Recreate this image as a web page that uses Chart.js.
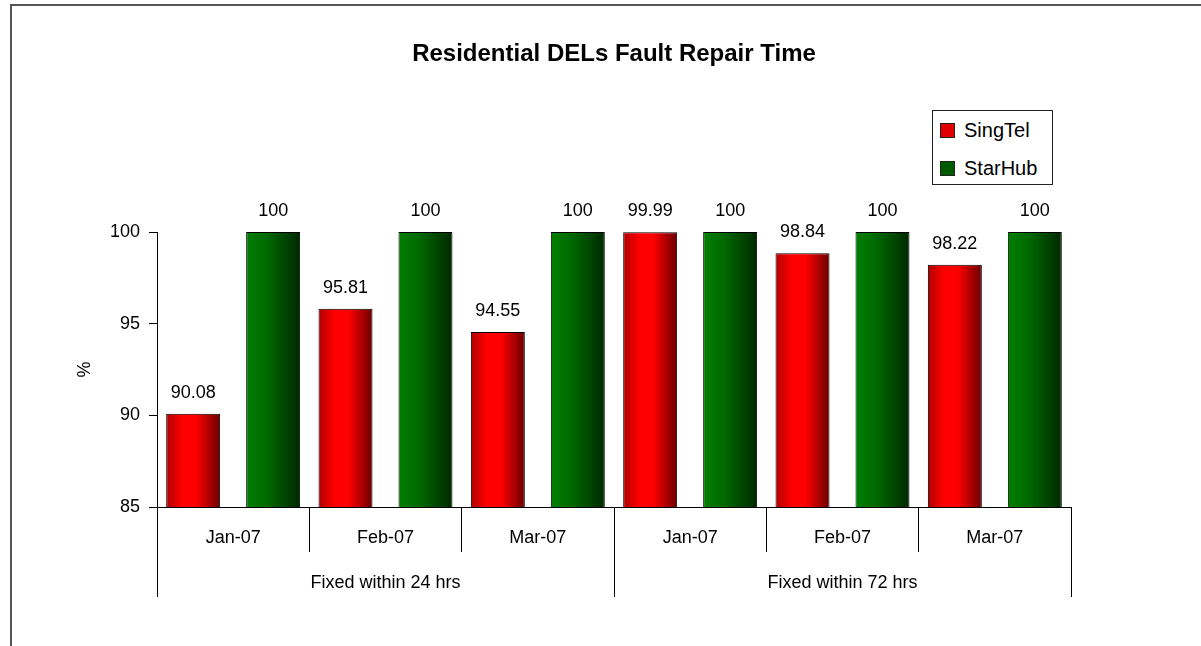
<!DOCTYPE html>
<html>
<head>
<meta charset="utf-8">
<script src="https://cdn.jsdelivr.net/npm/chart.js@4.4.1/dist/chart.umd.min.js"></script>
<style>
    body { margin: 0; background: #fff; overflow: hidden; }
    #frame { position: absolute; left: 10px; top: 4px; width: 1400px; height: 900px; border-top: 2px solid #555; border-left: 2px solid #555; }
    #wrap { position: absolute; left: 0; top: 0; width: 1201px; height: 646px; }
    #legend { position: absolute; left: 932px; top: 110px; width: 119px; height: 73px; border: 1px solid #222; background: #fff;
        font-family: 'Liberation Sans', Arial, sans-serif; font-size: 20px; color: #000; }
    #legend .row { position: absolute; left: 7px; height: 22px; line-height: 22px; white-space: nowrap; }
    #legend .sw { display: inline-block; width: 13px; height: 13px; border: 1px solid #222; vertical-align: -1px; margin-right: 9px; }
</style>
</head>
<body>
<div id="frame"></div>
<div id="wrap"><canvas id="chart"></canvas></div>
<div id="legend"></div>
<script>
const months = ['Jan-07', 'Feb-07', 'Mar-07', 'Jan-07', 'Feb-07', 'Mar-07'];
const groups = ['Fixed within 24 hrs', 'Fixed within 72 hrs'];
const singtel = [90.08, 95.81, 94.55, 99.99, 98.84, 98.22];
const starhub = [100, 100, 100, 100, 100, 100];
const yTicks = [85, 90, 95, 100];

const seriesNames = ['SingTel', 'StarHub'];
const gradientStops = [
    [[0, '#b00000'], [0.3, '#ff0000'], [0.55, '#ff0000'], [1, '#6a0000']],
    [[0, '#008000'], [0.4, '#006800'], [1, '#002800']]
];
const flatColors = ['#e00000', '#005a00'];

function barFill(context) {
    const el = context.element;
    const i = context.datasetIndex;
    if (!el || !el.width) {
        return flatColors[i];
    }
    const g = context.chart.ctx.createLinearGradient(el.x - el.width / 2, 0, el.x + el.width / 2, 0);
    gradientStops[i].forEach(function(s) { g.addColorStop(s[0], s[1]); });
    return g;
}

const valueLabels = {
    id: 'valueLabels',
    afterDatasetsDraw(chart) {
        const ctx = chart.ctx;
        ctx.save();
        ctx.font = "18px 'Liberation Sans', Arial, sans-serif";
        ctx.fillStyle = '#000';
        ctx.textAlign = 'center';
        ctx.textBaseline = 'alphabetic';
        chart.data.datasets.forEach(function(ds, di) {
            chart.getDatasetMeta(di).data.forEach(function(bar, i) {
                ctx.fillText(String(ds.data[i]), bar.x, bar.y - 16);
            });
        });
        ctx.restore();
    }
};

Chart.defaults.font.family = "'Liberation Sans', Arial, sans-serif";
Chart.defaults.font.size = 18;
Chart.defaults.color = '#000';

const ctx = document.getElementById('chart').getContext('2d');
const chart = new Chart(ctx, {
    type: 'bar',
    data: {
        labels: months,
        datasets: [
            { label: seriesNames[0], data: singtel, backgroundColor: barFill, borderColor: '#000', borderWidth: 1 },
            { label: seriesNames[1], data: starhub, backgroundColor: barFill, borderColor: '#000', borderWidth: 1 }
        ]
    },
    options: {
        responsive: true,
        maintainAspectRatio: false,
        animation: false,
        categoryPercentage: 1.05,
        barPercentage: 0.675,
        layout: { padding: { left: 0, right: 130, top: 0, bottom: 39 } },
        plugins: {
            legend: { display: false },
            tooltip: { enabled: false },
            title: {
                display: true,
                text: 'Residential DELs Fault Repair Time',
                fullSize: false,
                font: { size: 24, weight: 'bold' },
                padding: { top: 40, bottom: 163.2 }
            }
        },
        scales: {
            x: {
                offset: true,
                grid: { offset: true, drawOnChartArea: false, tickLength: 45, color: '#000' },
                border: { display: true, color: '#000' },
                ticks: { padding: -25, font: { size: 18 } },
                afterFit(scale) { scale.height = 40; }
            },
            x2: {
                type: 'category',
                position: 'bottom',
                labels: groups,
                offset: true,
                grid: { offset: true, drawOnChartArea: false, tickLength: 50, color: '#000' },
                border: { display: false },
                ticks: { padding: -25, font: { size: 18 } },
                afterFit(scale) { scale.height = 60; }
            },
            y: {
                min: yTicks[0],
                max: yTicks[yTicks.length - 1],
                ticks: { stepSize: 5, padding: 9, font: { size: 18 } },
                grid: { drawOnChartArea: false, tickLength: 8, color: '#000' },
                border: { display: true, color: '#000' },
                title: { display: true, text: '%', font: { size: 18 }, padding: { top: 74, bottom: 0 } },
                afterFit(scale) { scale.width = 157; }
            }
        }
    },
    plugins: [valueLabels]
});
// second pass so the gradients can use the bar positions
chart.update('none');

const legendBox = document.getElementById('legend');
seriesNames.forEach(function(name, i) {
    const row = document.createElement('div');
    row.className = 'row';
    row.style.top = (i === 0 ? 8 : 46) + 'px';
    row.innerHTML = '<span class="sw" style="background:' + flatColors[i] + '"></span>' + name;
    legendBox.appendChild(row);
});
</script>
</body>
</html>
